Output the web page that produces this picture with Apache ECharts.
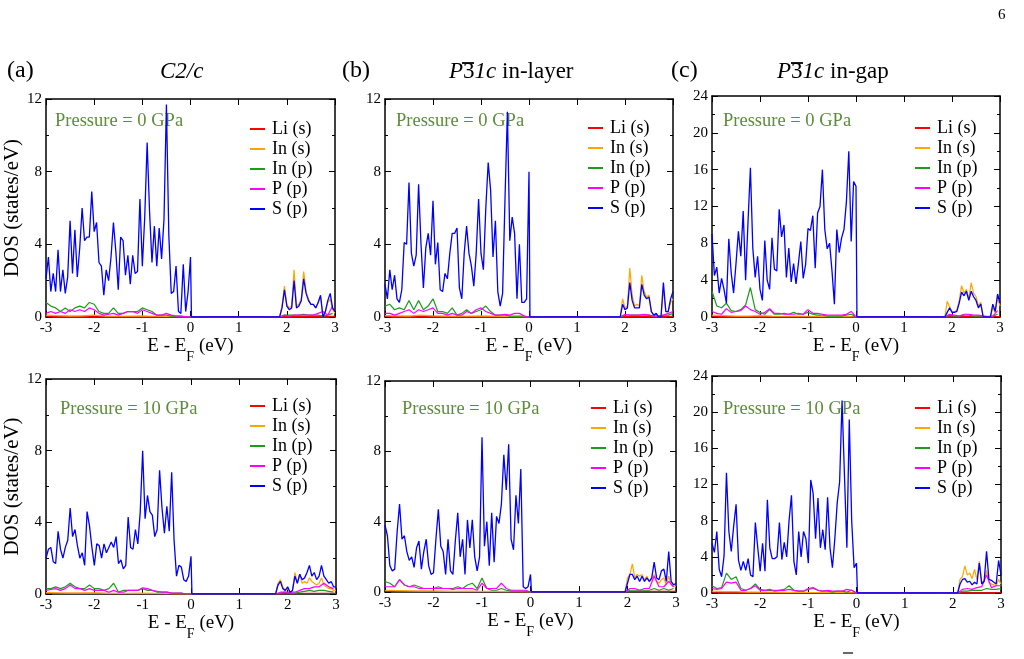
<!DOCTYPE html>
<html>
<head>
<meta charset="utf-8">
<script src="https://cdn.jsdelivr.net/npm/echarts@6/dist/echarts.min.js"></script>
<style>
  html, body { margin: 0; padding: 0; background: #fff; }
  #chart { width: 1024px; height: 659px; }
</style>
</head>
<body>
<div id="chart"></div>
<script>
// projected DOS, E - E_F from -3 to 3 eV
// valence-band arrays start at -3 eV: S(p) every 0.05 eV, In(p)/P(p) every 0.1 eV, In(s) every 0.25 eV
// conduction-band arrays start at the band edge (cbEdge): S(p)/In(s) every 0.05 eV, In(p)/P(p) every 0.1 eV
const names = ['Li (s)', 'In (s)', 'In (p)', 'P (p)', 'S (p)'];
const pressures = ['0', '0', '0', '10', '10', '10'];
const cbEdge = [1.85, 1.90, 1.85, 1.75, 1.95, 2.10];
const yMax = [12, 12, 24, 12, 12, 24];

// Li (s): flat on the axis, -3..3 every 0.5 eV
const liS = [0.03, 0.03, 0.03, 0.02, 0.02, 0.02, 0, 0, 0, 0, 0.02, 0.03, 0.03];

// (a) C2/c, 0 GPa
const aS = [2.1,3.3,1.4,2.4,1.4,3.7,1.4,2.6,1.3,2.2,5.3,2.4,4.8,2.2,3.8,6.0,4.2,4.4,4.4,6.9,4.7,5.2,3.0,2.8,1.2,2.6,2.0,3.3,5.2,3.6,1.5,4.4,4.2,2.3,3.4,1.8,3.4,2.4,2.5,6.5,2.8,5.5,9.6,5.8,3.0,5.0,2.8,4.9,3.2,5.4,11.7,4.5,1.3,1.4,2.8,0.3,0.2,2.9,0.3,1.4,3.3];
const aScb = [0,0.5,1.5,0.6,0.4,0.5,2.0,0.5,0.6,0.9,2.1,1.3,0.9,0.7,0.7,0.5,0.8,1.2,0.0,0.3,0.9,1.3,0.5,0.3];
const aInS = [0.1,0.08,0.05,0.06,0.1,0.05,0.04,0.05,0.06,0.04,0.03,0.02,0];
const aInScb = [0,0.6,1.7,0.7,0.5,0.6,2.6,0.6,0.7,1.0,2.5,1.4,1.0,0.7,0.7,0.5,0.8,1.1,0.0,0.3,0.8,1.0,0.4,0.2];
const aInP = [0.8,0.6,0.5,0.3,0.5,0.3,0.5,0.6,0.5,0.8,0.7,0.3,0.2,0.2,0.5,0.2,0.2,0.3,0.3,0.3,0.5,0.4,0.3,0.1,0.1,0.1,0.05,0.05,0.05,0,0];
const aInPcb = [0,0.1,0.1,0.1,0.1,0.15,0.1,0.1,0.1,0.05,0.1,0.2];
const aP = [0.2,0.3,0.2,0.3,0.2,0.4,0.3,0.4,0.3,0.5,0.4,0.2,0.1,0.15,0.2,0.1,0.2,0.3,0.3,0.2,0.4,0.3,0.2,0.1,0.1,0.2,0.1,0.05,0.05,0.02,0];
const aPcb = [0,0.1,0.05,0.1,0.1,0.1,0.1,0.1,0.2,0.3,0.1,0.6];

// (b) P-31c in-layer, 0 GPa
const bS = [1.8,1.0,2.6,1.5,2.3,1.0,0.8,1.5,4.1,4.0,7.4,3.5,2.8,3.4,7.3,4.0,1.6,3.8,4.6,3.4,6.4,2.9,4.1,1.5,1.4,2.4,2.1,3.5,4.6,4.6,4.9,1.6,1.0,3.5,5.0,3.5,2.8,1.7,3.5,6.5,3.5,2.6,6.0,8.5,7.0,3.3,5.3,1.4,0.6,1.3,6.5,11.3,4.2,5.5,4.6,1.0,4.0,0.8,0.8,1.0,8.0];
const bScb = [0,0.7,0.4,0.5,1.9,0.9,0.5,0.5,0.5,1.8,1.2,1.0,1.1,0.3,0.1,0.2,0,0,1.9,0.3,0.3,1.0,1.4];
const bInS = [0.08,0.06,0.05,0.1,0.06,0.05,0.04,0.05,0.06,0.05,0.03,0.02,0];
const bInScb = [0,1.0,0.5,0.6,2.7,1.2,0.6,0.7,0.6,2.3,1.4,1.1,1.2,0.3,0.1,0.2,0,0,1.5,0.3,0.3,0.8,1.0];
const bInP = [0.6,0.7,0.4,0.5,0.4,0.9,0.4,0.9,0.4,0.6,1.0,0.3,0.3,0.2,0.5,0.1,0.2,0.4,0.2,0.3,0.4,0.6,0.3,0.1,0.1,0.1,0.05,0.05,0.05,0.05,0];
const bInPcb = [0,0.1,0.1,0.1,0.1,0.1,0.1,0.05,0.05,0.1,0.1,0.2];
const bP = [0.2,0.2,0.1,0.2,0.3,0.4,0.2,0.4,0.3,0.4,0.5,0.2,0.2,0.1,0.2,0.1,0.1,0.3,0.2,0.4,0.5,0.3,0.2,0.1,0.1,0.15,0.1,0.2,0.2,0.05,0];
const bPcb = [0,0.15,0.1,0.1,0.1,0.15,0.1,0.05,0.05,0.1,0.2,0.3];

// (c) P-31c in-gap, 0 GPa
const cS = [9.0,4.5,5.4,2.6,4.2,3.0,1.5,8.5,4.8,2.6,5.8,9.3,6.6,11.5,4.0,10.3,16.2,7.5,4.3,6.6,3.0,1.8,8.3,4.0,3.0,8.6,5.2,5.0,11.7,8.7,10.0,4.3,7.5,3.8,5.8,3.6,5.8,8.2,4.2,5.7,9.6,9.4,11.0,5.3,11.3,12.0,16.0,9.5,7.4,8.0,5.0,1.4,9.5,7.0,8.6,9.5,12.5,18.0,8.2,14.7,14.2];
const cScb = [0,0.5,1.0,0.5,0.5,0.6,1.5,2.7,2.3,2.8,1.8,2.8,2.2,1.8,1.0,1.4,0,0,0,0,1.4,0.6,2.5,1.5];
const cInS = [0.2,0.15,0.1,0.1,0.15,0.1,0.08,0.1,0.08,0.06,0.05,0.04,0];
const cInScb = [0,1.7,1.1,0.6,0.6,0.7,1.8,3.4,2.6,3.0,2.0,3.7,2.6,2.2,1.2,1.6,0,0,0,0,1.0,0.5,2.0,1.2];
const cInP = [2.8,1.2,1.0,1.5,0.7,0.6,0.8,1.3,3.2,0.8,0.5,0.3,0.8,0.3,0.3,0.4,0.3,0.5,0.3,0.3,0.5,0.3,0.2,0.2,0.1,0.1,0.1,0.1,0.2,0.3,0];
const cInPcb = [0,0.2,0.1,0.1,0.2,0.2,0.1,0.1,0.1,0.05,0.1,0.3];
const cP = [0.6,0.4,0.3,0.9,0.5,0.6,0.7,1.2,0.8,0.6,0.3,0.5,0.9,0.4,0.4,0.3,0.3,0.3,0.4,0.3,0.8,0.4,0.4,0.3,0.2,0.2,0.2,0.2,0.3,0.6,0];
const cPcb = [0,0.3,0.2,0.1,0.3,0.3,0.2,0.2,0.1,0.05,0.1,0.7];

// (a) bottom, 10 GPa
const dS = [2.0,2.5,2.6,1.8,1.7,3.5,2.5,2.0,2.6,3.0,4.8,3.2,3.6,2.7,2.0,2.3,1.6,4.6,3.8,2.6,1.6,2.8,2.7,2.0,2.8,2.3,2.6,2.9,2.6,3.2,1.7,1.9,1.4,1.6,4.3,2.6,2.5,3.6,2.8,4.6,8.0,4.2,5.5,4.6,4.4,3.2,3.6,6.9,4.8,3.4,4.9,3.5,6.8,3.0,1.0,1.6,1.5,0.8,0.7,1.0,2.1];
const dScb = [0,0.5,0.7,0.3,0.2,0.4,0.1,0.2,1.0,0.6,1.1,0.8,0.9,1.2,1.6,1.0,1.2,0.8,1.0,1.6,1.0,0.8,0.6,0.7,0.4,0.4];
const dInS = [0.08,0.06,0.05,0.05,0.06,0.04,0.04,0.03,0.05,0.03,0.02,0.01,0];
const dInScb = [0,0.6,0.8,0.4,0.2,0.3,0.1,0.2,1.2,0.6,1.1,0.6,0.7,0.6,0.9,0.7,0.6,0.5,0.6,0.9,0.5,0.4,0.3,0.3,0.2,0.2];
const dInP = [0.3,0.3,0.4,0.3,0.4,0.6,0.4,0.3,0.3,0.5,0.3,0.3,0.2,0.3,0.6,0.1,0.2,0.2,0.2,0.2,0.3,0.2,0.2,0.1,0.1,0.1,0.05,0.05,0.05,0,0];
const dInPcb = [0,0.05,0.1,0.05,0.05,0.1,0.15,0.2,0.15,0.2,0.2,0.15,0.1];
const dP = [0.2,0.25,0.3,0.2,0.3,0.5,0.3,0.3,0.2,0.3,0.2,0.2,0.2,0.1,0.2,0.1,0.1,0.2,0.2,0.2,0.35,0.3,0.2,0.15,0.1,0.1,0.05,0.05,0.05,0,0];
const dPcb = [0,0.1,0.1,0.1,0.1,0.2,0.3,0.3,0.4,0.4,0.6,0.4,0.3];

// (b) bottom, 10 GPa
const eS = [3.8,3.2,1.5,1.2,1.3,3.4,5.0,3.0,3.2,2.3,1.8,2.0,1.4,2.5,2.9,1.3,2.3,3.0,1.5,1.0,1.1,3.0,4.7,2.6,2.3,1.0,3.0,1.2,1.0,2.9,4.5,2.0,3.0,1.0,4.1,2.5,4.1,2.0,1.2,2.0,8.8,2.6,4.0,1.5,4.5,1.7,4.3,3.9,5.0,7.8,5.8,8.4,3.0,2.4,5.5,3.9,7.0,0.3,0.2,0.3,1.0];
const eScb = [0,0.5,1.0,1.0,0.7,0.9,0.6,0.9,0.6,0.8,0.6,0.8,1.7,0.8,0.7,1.2,1.3,0.6,2.3,0.6,0.4,0.5];
const eInS = [0.1,0.08,0.06,0.05,0.05,0.04,0.04,0.05,0.04,0.03,0.02,0.02,0];
const eInScb = [0,0.8,1.0,1.6,0.8,1.0,0.9,1.0,0.7,0.9,0.6,0.7,1.0,0.6,0.5,0.7,0.8,0.4,0.9,0.4,0.3,0.3];
const eInP = [0.6,0.5,0.3,0.7,0.4,0.3,0.4,0.3,0.2,0.2,0.2,0.3,0.2,0.2,0.2,0.3,0.2,0.4,0.5,0.2,0.8,0.2,0.1,0.1,0.2,0.1,0.05,0.05,0.05,0.05,0];
const eInPcb = [0,0.1,0.1,0.1,0.1,0.1,0.2,0.1,0.2,0.1,0.2];
const eP = [0.3,0.3,0.3,0.7,0.4,0.3,0.3,0.2,0.2,0.2,0.2,0.2,0.2,0.2,0.15,0.2,0.2,0.2,0.2,0.1,0.5,0.2,0.2,0.2,0.5,0.2,0.1,0.1,0.1,0.1,0];
const ePcb = [0,0.2,0.2,0.1,0.2,0.2,0.9,0.3,0.3,0.6,0.3];

// (c) bottom, 10 GPa
const fS = [5.5,4.5,6.8,2.6,1.8,4.1,13.3,6.8,4.6,7.4,9.8,3.6,2.5,3.5,2.5,3.8,2.0,1.8,7.8,5.0,2.4,5.5,2.4,10.3,5.0,3.8,3.8,4.0,7.8,3.7,5.6,4.0,8.0,10.8,3.5,2.0,6.8,4.0,6.8,6.0,3.3,12.5,11.0,6.0,10.5,5.0,7.0,4.8,10.6,5.0,2.8,6.0,10.0,12.3,21.3,13.0,5.0,19.2,8.0,2.8,3.3];
const fScb = [0,1.0,1.5,1.6,1.2,1.3,0.9,1.2,1.0,3.3,1.0,1.3,4.6,1.5,1.4,1.2,1.0,3.6,2.0];
const fInS = [0.2,0.15,0.15,0.1,0.1,0.1,0.08,0.08,0.06,0.05,0.05,0.05,0];
const fInScb = [0,1.5,1.8,3.0,2.0,2.2,1.6,2.6,1.5,3.5,1.2,1.3,2.5,1.2,1.0,0.9,0.8,1.5,1.0];
const fInP = [0.8,0.5,0.6,2.2,1.5,1.8,0.5,0.3,0.5,1.0,0.4,0.3,0.3,0.3,0.3,0.4,0.8,0.3,0.2,0.2,0.4,0.5,0.3,0.2,0.2,0.1,0.2,0.2,0.1,0.3,0];
const fInPcb = [0,0.2,0.2,0.3,0.3,0.3,0.5,0.4,0.4,0.5];
const fP = [0.5,0.4,0.5,1.2,1.1,1.2,0.3,0.3,0.5,0.8,0.3,0.3,0.4,0.2,0.3,0.3,0.4,0.3,0.2,0.2,0.5,0.6,0.3,0.2,0.3,0.2,0.2,0.2,0.4,0.3,0];
const fPcb = [0,0.4,0.5,0.4,0.6,0.7,2.0,0.6,0.8,0.8];

const panelData = [
  [aInS, aInScb, aInP, aInPcb, aP, aPcb, aS, aScb],
  [bInS, bInScb, bInP, bInPcb, bP, bPcb, bS, bScb],
  [cInS, cInScb, cInP, cInPcb, cP, cPcb, cS, cScb],
  [dInS, dInScb, dInP, dInPcb, dP, dPcb, dS, dScb],
  [eInS, eInScb, eInP, eInPcb, eP, ePcb, eS, eScb],
  [fInS, fInScb, fInP, fInPcb, fP, fPcb, fS, fScb],
];

// ---- layout ----
const FONT = 'Liberation Serif';
const colors = ['#ff0000', '#ffa500', '#1e9a1e', '#ff00ff', '#0000ff'];
const boxes = [
  { left: 46, top: 99, width: 289, height: 218 },
  { left: 385, top: 99, width: 288, height: 218 },
  { left: 712, top: 96, width: 288, height: 221 },
  { left: 46, top: 379, width: 290, height: 215 },
  { left: 385, top: 381, width: 291, height: 211 },
  { left: 712, top: 376, width: 289, height: 217 },
];
const xNameGap = [19, 19, 19, 15, 17, 19];
const legendPos = [[250, 120], [588, 119], [915, 119], [250, 397], [591, 399], [915, 399]];
const pressPos = [[55, 122], [396, 122], [723, 122], [60, 410], [402, 410], [723, 410]];

function pts(vb, vbStep, cb, cbVals, cbStep) {
  const out = vb.map((v, i) => [-3 + i * vbStep, v]);
  out.push([0.02, 0]);
  cbVals.forEach((v, i) => {
    const x = cb + i * cbStep;
    if (x <= 3.0001) out.push([x, v]);
  });
  return out;
}

const chart = echarts.init(document.getElementById('chart'));
const grid = [], xAxis = [], yAxis = [], series = [], legend = [], graphic = [];

const axisLine = { onZero: false, lineStyle: { color: '#000', width: 1.5 } };
const tick = { inside: true, length: 6, lineStyle: { color: '#000', width: 1 } };
const labelStyle = { color: '#000', fontFamily: FONT, fontSize: 15 };

boxes.forEach((b, p) => {
  grid.push(Object.assign({ containLabel: false }, b));
  xAxis.push({
    gridIndex: p, type: 'value', min: -3, max: 3, interval: 1, position: 'bottom',
    axisLine, axisTick: tick, splitLine: { show: false },
    axisLabel: Object.assign({ margin: 4, showMinLabel: true, showMaxLabel: true }, labelStyle),
    name: '{a|E - E}{b|F}{a| (eV)}', nameLocation: 'middle', nameGap: xNameGap[p],
    nameTextStyle: {
      rich: {
        a: { fontFamily: FONT, fontSize: 19, color: '#000', lineHeight: 21, verticalAlign: 'top' },
        b: { fontFamily: FONT, fontSize: 14, color: '#000', lineHeight: 27, verticalAlign: 'bottom' }
      }
    }
  });
  xAxis.push({
    gridIndex: p, type: 'value', min: -3, max: 3, interval: 1, position: 'top',
    axisLine, axisTick: tick, axisLabel: { show: false }, splitLine: { show: false }
  });
  const ym = yMax[p];
  const yAx = {
    gridIndex: p, type: 'value', min: 0, max: ym, interval: 4,
    axisLine, axisTick: tick, splitLine: { show: false },
    minorTick: { show: true, splitNumber: 2, length: 3, lineStyle: { color: '#000', width: 1 } },
    axisLabel: Object.assign({ margin: 4, showMinLabel: true, showMaxLabel: true }, labelStyle)
  };
  if (p % 3 === 0) {
    Object.assign(yAx, {
      name: 'DOS (states/eV)', nameLocation: 'middle', nameGap: 13,
      nameTextStyle: { fontFamily: FONT, fontSize: 21, color: '#000' }
    });
  }
  yAxis.push(yAx);
  yAxis.push({
    gridIndex: p, type: 'value', min: 0, max: ym, interval: 4, position: 'right',
    axisLine, axisTick: tick, splitLine: { show: false }, axisLabel: { show: false },
    minorTick: { show: true, splitNumber: 2, length: 3, lineStyle: { color: '#000', width: 1 } }
  });

  const d = panelData[p];
  const cb = cbEdge[p];
  const sets = [
    liS.map((v, i) => [-3 + i * 0.5, v]),
    pts(d[0], 0.25, cb, d[1], 0.05),
    pts(d[2], 0.1, cb, d[3], 0.1),
    pts(d[4], 0.1, cb, d[5], 0.1),
    pts(d[6], 0.05, cb, d[7], 0.05),
  ];
  sets.forEach((data, k) => {
    series.push({
      type: 'line', name: names[k], xAxisIndex: 2 * p, yAxisIndex: 2 * p,
      data, showSymbol: false, symbol: 'none', smooth: false,
      lineStyle: { color: colors[k], width: k === 4 ? 1.3 : 1.2 },
      itemStyle: { color: colors[k] },
      emphasis: { disabled: true }
    });
  });

  legend.push({
    orient: 'vertical', left: legendPos[p][0], top: legendPos[p][1],
    padding: 0, data: names, icon: 'rect', itemWidth: 15, itemHeight: 2, itemGap: 2,
    selectedMode: false,
    textStyle: { fontFamily: FONT, fontSize: 18, color: '#000', lineHeight: 18, padding: [0, 0, 0, 2] }
  });

  graphic.push({
    type: 'text', left: pressPos[p][0], top: pressPos[p][1] - 10,
    style: { text: 'Pressure = ' + pressures[p] + ' GPa', font: '18.5px "' + FONT + '"', fill: '#5d8c3c' }
  });
});

// panel titles
const titleFont = '23px "' + FONT + '"';
const italicFont = 'italic 23px "' + FONT + '"';
const labFont = '24px "' + FONT + '"';
graphic.push(
  { type: 'text', left: 7, top: 59, style: { text: '(a)', font: labFont, fill: '#000' } },
  { type: 'text', left: 342, top: 59, style: { text: '(b)', font: labFont, fill: '#000' } },
  { type: 'text', left: 671, top: 59, style: { text: '(c)', font: labFont, fill: '#000' } },
  { type: 'text', left: 160, top: 60, style: { text: 'C2/c', font: italicFont, fill: '#000' } },
  {
    type: 'text', left: 449, top: 60,
    style: {
      text: '{i|P}{n|3}{i|1c}{n| in-layer}', fill: '#000',
      rich: { i: { font: italicFont }, n: { font: titleFont } }
    }
  },
  {
    type: 'text', left: 777, top: 60,
    style: {
      text: '{i|P}{n|3}{i|1c}{n| in-gap}', fill: '#000',
      rich: { i: { font: italicFont }, n: { font: titleFont } }
    }
  },
  { type: 'line', shape: { x1: 462, y1: 63, x2: 474, y2: 63 }, style: { stroke: '#000', lineWidth: 1.8 } },
  { type: 'line', shape: { x1: 791, y1: 63, x2: 803, y2: 63 }, style: { stroke: '#000', lineWidth: 1.8 } },
  { type: 'text', left: 998, top: 8, style: { text: '6', font: '15px "' + FONT + '"', fill: '#000' } },
  { type: 'line', shape: { x1: 843, y1: 653, x2: 853, y2: 653 }, style: { stroke: '#000', lineWidth: 1.2 } }
);

chart.setOption({
  animation: false,
  backgroundColor: '#fff',
  grid, xAxis, yAxis, series, legend, graphic
});
</script>
</body>
</html>
